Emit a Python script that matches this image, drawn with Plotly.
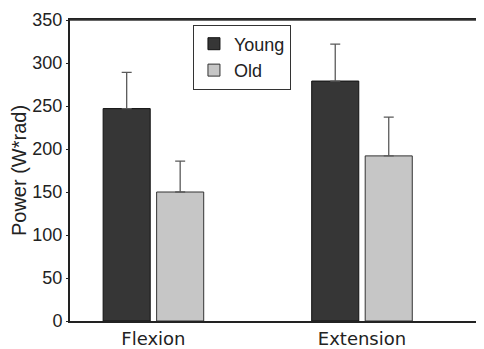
import plotly.graph_objects as go

categories = ["Flexion", "Extension"]
young_values = [247, 279]
young_err = [42, 43]
old_values = [150, 192]
old_err = [36, 45]
y_ticks = [0, 50, 100, 150, 200, 250, 300, 350]

fig = go.Figure()
fig.add_trace(go.Bar(
    name="Young", x=categories, y=young_values,
    marker=dict(color="#363636", line=dict(color="#111111", width=1)),
    error_y=dict(type="data", symmetric=False, array=young_err, arrayminus=[0, 0],
                 color="#5a5a5a", thickness=1.3, width=5),
))
fig.add_trace(go.Bar(
    name="Old", x=categories, y=old_values,
    marker=dict(color="#c6c6c6", line=dict(color="#333333", width=1)),
    error_y=dict(type="data", symmetric=False, array=old_err, arrayminus=[0, 0],
                 color="#5a5a5a", thickness=1.3, width=5),
))

fig.update_layout(
    width=476, height=341,
    margin=dict(l=62, r=0, t=12, b=26),
    paper_bgcolor="white", plot_bgcolor="white",
    barmode="group", bargap=0.487, bargroupgap=0.12,
    font=dict(family="DejaVu Sans, Arial, sans-serif", color="#222222"),
    showlegend=True,
    legend=dict(
        x=0.297, y=0.985, xanchor="left", yanchor="top",
        bordercolor="#333333", borderwidth=1, bgcolor="white",
        font=dict(size=18, family="Liberation Sans, Arial, sans-serif"),
        itemwidth=30, tracegroupgap=0,
    ),
    xaxis=dict(
        type="category", range=[-0.40, 1.585],
        showline=True, linecolor="#222222", linewidth=2, mirror=True,
        ticks="", showgrid=False,
        tickfont=dict(size=18, family="DejaVu Sans, sans-serif"),
    ),
    yaxis=dict(
        range=[0, 350], tickvals=y_ticks,
        showline=True, linecolor="#222222", linewidth=2,
        ticks="outside", ticklen=2, tickcolor="#222222",
        showgrid=False, zeroline=False,
        tickfont=dict(size=18, family="Liberation Sans, Arial, sans-serif"),
        title=dict(text="Power (W*rad)", standoff=4,
                   font=dict(size=20, family="Liberation Sans, Arial, sans-serif")),
    ),
    shapes=[dict(type="line", xref="paper", yref="paper", x0=0, x1=1, y0=1, y1=1,
                 line=dict(color="#333333", width=1.5))],
)

fig.write_html("out.html")
